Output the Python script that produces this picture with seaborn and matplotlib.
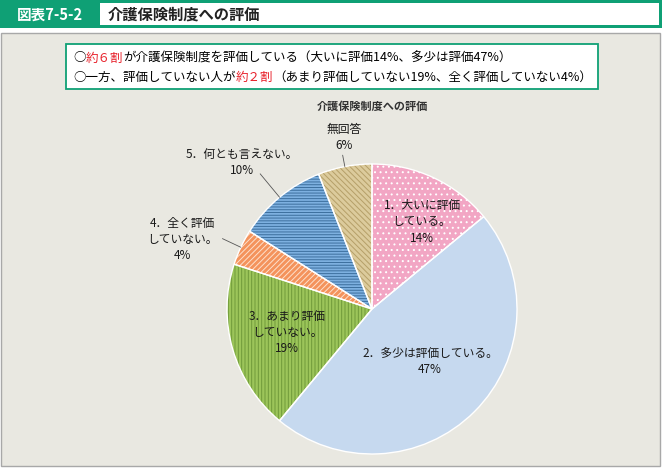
import numpy as np
import matplotlib
matplotlib.use("Agg")
import matplotlib.pyplot as plt
from matplotlib.patches import Rectangle
import seaborn as sns

# -------------------------------------------------------
# Data
# -------------------------------------------------------

categories = [
    "1．大いに評価\nしている。",
    "2．多少は評価している。",
    "3．あまり評価\nしていない。",
    "4．全く評価\nしていない。",
    "5．何とも言えない。",
    "無回答",
]
shares = [14, 47, 19, 4, 10, 6]

fill_colors = ["#f2a6c4", "#c6d9ef", "#9cc55a", "#f4935c", "#7db0e0", "#dccb9c"]
hatch_colors = ["#ffffff", "#c6d9ef", "#6f9a3a", "#fde0cc", "#3d6f9e", "#b59f68"]
hatches = ["...", None, "|||||", "//////", "------", "\\\\\\\\\\\\"]

header_code = "図表7-5-2"
header_title = "介護保険制度への評価"
chart_title = "介護保険制度への評価"
summary_line1 = [("○", "black"), ("約６割", "#e8202a"),
                 ("が介護保険制度を評価している（大いに評価14%、多少は評価47%）", "black")]
summary_line2 = [("○一方、評価していない人が", "black"), ("約２割", "#e8202a"),
                 ("（あまり評価していない19%、全く評価していない4%）", "black")]

# -------------------------------------------------------
# Style
# -------------------------------------------------------

sns.set_theme(style="white")
plt.rcParams["font.family"] = ["Noto Sans CJK JP", "DejaVu Sans"]
plt.rcParams["hatch.linewidth"] = 0.7

green = "#0fa075"
panel = "#e9e8e1"

fig = plt.figure(figsize=(6.62, 4.68), dpi=100)
fig.patch.set_facecolor("white")

# background layer in pixel coordinates
bg = fig.add_axes([0, 0, 1, 1])
bg.set_xlim(0, 662)
bg.set_ylim(468, 0)
bg.axis("off")

bg.add_patch(Rectangle((0, 0), 662, 28, facecolor=green, edgecolor="none"))
bg.add_patch(Rectangle((100, 3), 559, 22, facecolor="white", edgecolor="none"))
bg.text(50, 14.5, header_code, color="white", fontsize=10.5, fontweight="bold",
        ha="center", va="center")
bg.text(108, 14.5, header_title, color="#222222", fontsize=11, fontweight="bold",
        ha="left", va="center")

bg.add_patch(Rectangle((1, 33), 659, 433, facecolor=panel, edgecolor="#a8a8a8", lw=1))
bg.add_patch(Rectangle((66, 44), 532, 45, facecolor="white", edgecolor=green, lw=1.3))


def rainbow_line(ax, x, y, parts, size):
    t = ax.text(x, y, parts[0][0], color=parts[0][1], fontsize=size,
                ha="left", va="center")
    for s, c in parts[1:]:
        t = ax.annotate(s, xy=(1, 0), xycoords=t, xytext=(0, 0),
                        textcoords="offset points", color=c, fontsize=size,
                        ha="left", va="bottom")


rainbow_line(bg, 73, 58, summary_line1, 9)
rainbow_line(bg, 73, 77, summary_line2, 9)

bg.text(372, 106, chart_title, fontsize=8, fontweight="bold", color="#333333",
        ha="center", va="center")

# -------------------------------------------------------
# Pie
# -------------------------------------------------------

cx, cy, r = 372, 309, 145
ax = fig.add_axes([(cx - r) / 662, (468 - cy - r) / 468, 2 * r / 662, 2 * r / 468])
ax.set_facecolor("none")

# hatch layer
wedges, _ = ax.pie(shares, colors=fill_colors, startangle=90, counterclock=False,
                   wedgeprops=dict(linewidth=0))
for w, h, hc in zip(wedges, hatches, hatch_colors):
    if h:
        w.set_hatch(h)
        w.set_edgecolor(hc)
        w.set_linewidth(0)

# white outlines on top
outline, _ = ax.pie(shares, colors=["none"] * len(shares), startangle=90,
                    counterclock=False,
                    wedgeprops=dict(linewidth=1, edgecolor="white", fill=False))
ax.set_xlim(-1, 1)
ax.set_ylim(-1, 1)
ax.axis("off")

# labels
label_pos = [(0.345, 0.60), (0.40, -0.365), (-0.586, -0.159),
             (-1.31, 0.476), (-0.897, 1.007), (-0.193, 1.186)]
for cat, val, (lx, ly) in zip(categories, shares, label_pos):
    ax.text(lx, ly, f"{cat}\n{val}%", fontsize=8.5, color="#1a1a1a",
            ha="center", va="center", linespacing=1.3, clip_on=False)

# leader lines for small outside labels
leader_len = {3: 1.14, 4: 1.21, 5: 1.08}
for i, r_out in leader_len.items():
    w = wedges[i]
    ang = np.deg2rad((w.theta1 + w.theta2) / 2)
    ax.plot([np.cos(ang), r_out * np.cos(ang)], [np.sin(ang), r_out * np.sin(ang)],
            color="#555555", lw=0.6, clip_on=False)

fig.savefig("out.png", dpi=100)
